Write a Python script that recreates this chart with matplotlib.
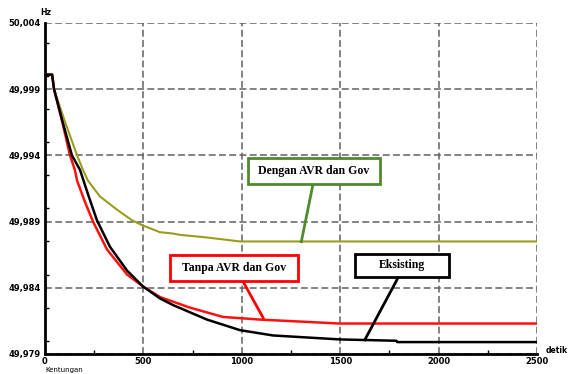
import matplotlib.pyplot as plt
from matplotlib.patches import Rectangle
from matplotlib.ticker import MultipleLocator, FuncFormatter

# waktu (detik) dan frekuensi (Hz)
t_dengan = [0, 36, 46, 100, 163, 193, 218, 279, 366, 442, 498, 584, 650, 686, 823, 991, 1500, 2500]
f_dengan = [50.0001, 50.0001, 49.9990, 49.9966, 49.9940, 49.9929, 49.9921, 49.9909, 49.9899,
            49.9891, 49.9887, 49.9882, 49.9881, 49.9880, 49.9878, 49.9875, 49.9875, 49.9875]

t_tanpa = [0, 36, 46, 90, 127, 152, 163, 200, 244, 315, 417, 498, 584, 737, 904, 1092, 1499, 2500]
f_tanpa = [50.0001, 50.0001, 49.9990, 49.9964, 49.9940, 49.9929, 49.9921, 49.9906, 49.9890,
           49.9869, 49.9850, 49.9841, 49.9833, 49.9825, 49.9818, 49.9816, 49.9813, 49.9813]

t_eks = [0, 36, 46, 90, 137, 178, 220, 264, 330, 417, 498, 584, 650, 823, 991, 1159, 1499, 1786, 1790, 2500]
f_eks = [50.0001, 50.0001, 49.9990, 49.9965, 49.9940, 49.9929, 49.9910, 49.9891, 49.9871, 49.9853,
         49.9841, 49.9832, 49.9827, 49.9816, 49.9808, 49.9804, 49.9801, 49.9800, 49.9799, 49.9799]

y_ticks = [49.979, 49.984, 49.989, 49.994, 49.999, 50.004]
x_ticks = [0, 500, 1000, 1500, 2000, 2500]

fig = plt.figure(figsize=(5.68, 3.74), dpi=100)
ax = fig.add_axes([45 / 568, 1 - 354 / 374, 492 / 568, 331 / 374])

ax.plot(t_dengan, f_dengan, color='#9c9c1c', lw=1.5, zorder=3)
ax.plot(t_tanpa, f_tanpa, color='#ff1010', lw=1.8, zorder=3)
ax.plot(t_eks, f_eks, color='black', lw=1.8, zorder=4)

ax.set_xlim(0, 2500)
ax.set_ylim(49.979, 50.004)
ax.set_xticks(x_ticks)
ax.set_yticks(y_ticks)
ax.xaxis.set_minor_locator(MultipleLocator(250))
ax.yaxis.set_minor_locator(MultipleLocator(0.0025))
ax.yaxis.set_major_formatter(FuncFormatter(lambda v, p: f'{v:.3f}'.replace('.', ',')))
ax.tick_params(which='major', length=0, labelsize=6, pad=3)
ax.tick_params(axis='x', which='major', pad=2)
ax.tick_params(which='minor', length=3, direction='in', width=1)
for lab in ax.get_xticklabels() + ax.get_yticklabels():
    lab.set_fontweight('bold')

ax.grid(True, which='major', color='#606060', ls=(0, (4.5, 2.2)), lw=1.1)
for s in ['top', 'right']:
    ax.spines[s].set_visible(False)
for s in ['left', 'bottom']:
    ax.spines[s].set_linewidth(2)

ax.text(5, 50.00476, 'Hz', fontsize=5.5, fontweight='bold', ha='center', va='center', clip_on=False)
ax.text(2545, 49.97925, 'detik', fontsize=5.5, fontweight='bold', ha='left', va='center')
ax.text(0, 49.97780, 'Kentungan', fontsize=5, ha='left', va='center')

# kotak keterangan
boxes = [
    ('Dengan AVR dan Gov', '#4f8a2f', (1031, 1704, 49.99184, 49.99380), ((1362, 49.99184), (1301, 49.98738))),
    ('Tanpa AVR dan Gov', '#ff0000', (633, 1286, 49.98451, 49.98648), ((1005, 49.98451), (1112, 49.98164))),
    ('Eksisting', 'black', (1577, 2051, 49.98482, 49.98655), ((1796, 49.98482), (1622, 49.97998))),
]
for label, col, (x0, x1, y0, y1), (p0, p1) in boxes:
    ax.add_patch(Rectangle((x0, y0), x1 - x0, y1 - y0, fc='white', ec=col, lw=2, zorder=5))
    ax.text((x0 + x1) / 2, (y0 + y1) / 2, label, fontsize=8.5, fontweight='bold',
            family='Liberation Serif', ha='center', va='center', zorder=6)
    ax.plot([p0[0], p1[0]], [p0[1], p1[1]], color=col, lw=2, zorder=5, solid_capstyle='butt')

fig.savefig('out.png', dpi=100)
